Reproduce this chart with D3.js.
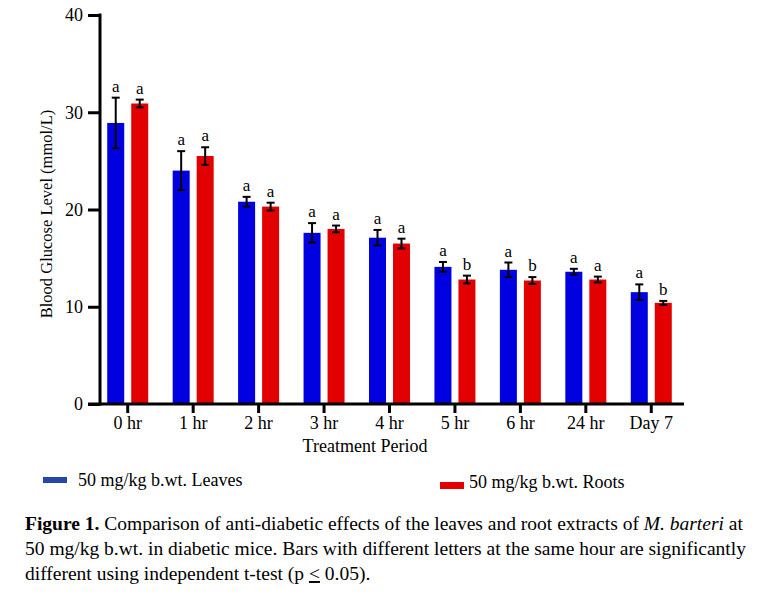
<!DOCTYPE html>
<html>
<head>
<meta charset="utf-8">
<script src="https://cdn.jsdelivr.net/npm/d3@7"></script>
<style>
  body { margin: 0; background: #fff; }
  svg text { font-family: "Liberation Serif", "DejaVu Serif", serif; fill: #000; }
</style>
</head>
<body>
<svg id="chart" width="766" height="600"></svg>
<script>
// data
const periods = ["0 hr", "1 hr", "2 hr", "3 hr", "4 hr", "5 hr", "6 hr", "24 hr", "Day 7"];
const leaves = [28.9, 24.0, 20.8, 17.6, 17.1, 14.1, 13.8, 13.6, 11.5];
const leavesErr = [2.6, 2.0, 0.5, 1.0, 0.8, 0.5, 0.75, 0.3, 0.8];
const roots = [30.9, 25.5, 20.3, 18.0, 16.5, 12.8, 12.7, 12.8, 10.4];
const rootsErr = [0.4, 0.9, 0.4, 0.35, 0.5, 0.4, 0.35, 0.3, 0.2];
const leavesLetters = ["a", "a", "a", "a", "a", "a", "a", "a", "a"];
const rootsLetters = ["a", "a", "a", "a", "a", "b", "b", "a", "b"];
const yTicks = [0, 10, 20, 30, 40];

const svg = d3.select("#chart");
const blue = "#0000e0", red = "#e30000";
const font = "Liberation Serif";

const x = d3.scaleBand().domain(periods).range([95, 684]);
const y = d3.scaleLinear().domain([0, 40]).range([404, 15]);
const barW = 17, off = 12;

const series = [
  { vals: leaves, err: leavesErr, letters: leavesLetters, color: blue, dx: -off },
  { vals: roots, err: rootsErr, letters: rootsLetters, color: red, dx: off }
];

// bars + error bars
series.forEach(s => {
  const g = svg.append("g");
  const cx = (d, i) => x(periods[i]) + x.bandwidth() / 2 + s.dx;
  g.selectAll("rect").data(s.vals).join("rect")
    .attr("x", (d, i) => cx(d, i) - barW / 2)
    .attr("y", d => y(d))
    .attr("width", barW)
    .attr("height", d => y(0) - y(d))
    .attr("fill", s.color);

  const eb = g.selectAll("g.err").data(s.vals).join("g").attr("class", "err")
    .attr("stroke", "#000").attr("stroke-width", 2);
  eb.append("line")
    .attr("x1", (d, i) => cx(d, i)).attr("x2", (d, i) => cx(d, i))
    .attr("y1", (d, i) => y(d + s.err[i])).attr("y2", (d, i) => y(d - s.err[i]));
  eb.append("line")
    .attr("x1", (d, i) => cx(d, i) - 4).attr("x2", (d, i) => cx(d, i) + 4)
    .attr("y1", (d, i) => y(d + s.err[i])).attr("y2", (d, i) => y(d + s.err[i]));
  eb.append("line")
    .attr("x1", (d, i) => cx(d, i) - 4).attr("x2", (d, i) => cx(d, i) + 4)
    .attr("y1", (d, i) => y(d - s.err[i])).attr("y2", (d, i) => y(d - s.err[i]));

  g.selectAll("text").data(s.vals).join("text")
    .attr("x", (d, i) => cx(d, i))
    .attr("y", (d, i) => y(d + s.err[i]) - 6)
    .attr("text-anchor", "middle")
    .attr("font-size", 17)
    .text((d, i) => s.letters[i]);
});

// y axis
const yAxis = svg.append("g").attr("transform", "translate(100,0)")
  .call(d3.axisLeft(y).tickValues(yTicks).tickSize(12).tickPadding(5).tickFormat(d3.format("d")));
yAxis.attr("font-family", font);
yAxis.select(".domain").remove();
yAxis.selectAll("line").attr("stroke", "#000").attr("stroke-width", 3);
yAxis.selectAll("text").attr("font-size", 18).attr("fill", "#000");
svg.append("line").attr("x1", 100).attr("x2", 100).attr("y1", y(40) - 1.5).attr("y2", y(0) + 1.5)
  .attr("stroke", "#000").attr("stroke-width", 3);

// x axis
const xAxis = svg.append("g").attr("transform", `translate(0,${y(0)})`)
  .call(d3.axisBottom(x).tickSize(9).tickPadding(3));
xAxis.attr("font-family", font);
xAxis.select(".domain").remove();
xAxis.selectAll("line").attr("stroke", "#000").attr("stroke-width", 3);
xAxis.selectAll("text").attr("font-size", 18).attr("fill", "#000");
svg.append("line").attr("x1", 88).attr("x2", 684).attr("y1", y(0)).attr("y2", y(0))
  .attr("stroke", "#000").attr("stroke-width", 3);

// axis titles
svg.append("text").attr("x", 365).attr("y", 452).attr("text-anchor", "middle")
  .attr("font-size", 18).text("Treatment Period");
svg.append("text").attr("transform", "translate(52,214) rotate(-90)").attr("text-anchor", "middle")
  .attr("font-size", 16.5).text("Blood Glucose Level (mmol/L)");

// legend
svg.append("rect").attr("x", 43).attr("y", 477).attr("width", 24).attr("height", 6).attr("fill", "#2447a8");
svg.append("text").attr("x", 78).attr("y", 486).attr("font-size", 18).text("50 mg/kg b.wt. Leaves");
svg.append("rect").attr("x", 440).attr("y", 482).attr("width", 24).attr("height", 7).attr("fill", red);
svg.append("text").attr("x", 469).attr("y", 488).attr("font-size", 18).text("50 mg/kg b.wt. Roots");

// caption
const cap = svg.append("g").attr("font-size", 19.5);
const l1 = cap.append("text").attr("x", 25).attr("y", 530);
l1.append("tspan").attr("font-weight", "bold").text("Figure 1.");
l1.append("tspan").text(" Comparison of anti-diabetic effects of the leaves and root extracts of ");
l1.append("tspan").attr("font-style", "italic").text("M. barteri");
l1.append("tspan").text(" at");
cap.append("text").attr("x", 25).attr("y", 555)
  .text("50 mg/kg b.wt. in diabetic mice. Bars with different letters at the same hour are significantly");
const l3 = cap.append("text").attr("x", 25).attr("y", 580);
l3.append("tspan").text("different using independent t-test (p ");
l3.append("tspan").attr("text-decoration", "underline").text("<");
l3.append("tspan").text(" 0.05).");
</script>
</body>
</html>
